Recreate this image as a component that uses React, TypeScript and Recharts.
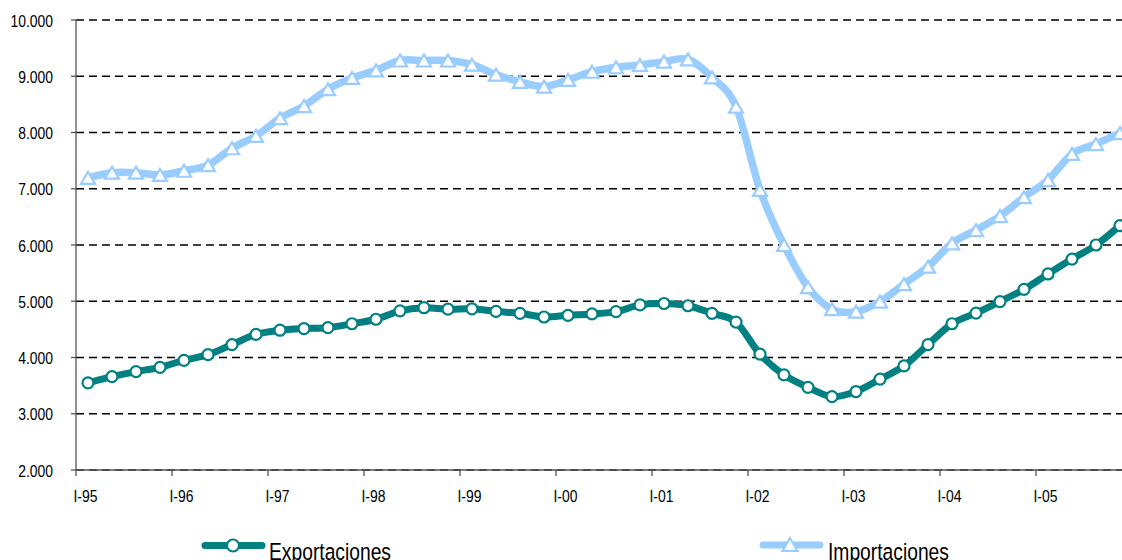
import React from 'react';
import { LineChart, Line, XAxis, YAxis, CartesianGrid } from 'recharts';

const years = ['95', '96', '97', '98', '99', '00', '01', '02', '03', '04', '05'];
const quarterNames = ['I', 'II', 'III', 'IV'];
const categories: string[] = years.flatMap((y) => quarterNames.map((q) => `${q}-${y}`));

const exportaciones = [
  3550, 3660, 3750, 3825, 3950, 4050, 4230, 4410, 4485, 4515, 4530, 4600,
  4680, 4830, 4885, 4860, 4865, 4820, 4785, 4720, 4750, 4775, 4815, 4935,
  4960, 4920, 4785, 4630, 4060, 3690, 3470, 3305, 3395, 3615, 3850, 4230,
  4600, 4790, 4995, 5210, 5485, 5750, 6000, 6345,
];

const importaciones = [
  7195, 7285, 7285, 7245, 7320, 7420, 7720, 7940, 8255, 8470, 8770, 8970,
  9105, 9280, 9280, 9280, 9205, 9030, 8900, 8815, 8935, 9080, 9160, 9200,
  9260, 9300, 8980, 8460, 6980, 6000, 5250, 4860, 4815, 4995, 5305, 5615,
  6030, 6265, 6515, 6850, 7155, 7620, 7795, 7990,
];

const yTicks = [2000, 3000, 4000, 5000, 6000, 7000, 8000, 9000, 10000];
const xTicks = [0, 4, 8, 12, 16, 20, 24, 28, 32, 36, 40];
const seriesNames = ['Exportaciones', 'Importaciones'];

const data = categories.map((c, i) => ({
  x: i + 0.5,
  label: c,
  exportaciones: exportaciones[i],
  importaciones: importaciones[i],
}));

const FONT = "'Liberation Sans', Arial, sans-serif";
const SQUEEZE = 0.82;
const TEAL = '#008080';
const BLUE = '#99CCFF';
const AXIS = '#555555';

// Excel-like smoothed line (Catmull-Rom style Bezier)
const excelCurve: any = (context: any) => {
  let pts: number[][] = [];
  return {
    areaStart() {},
    areaEnd() {},
    lineStart() {
      pts = [];
    },
    point(x: number, y: number) {
      pts.push([+x, +y]);
    },
    lineEnd() {
      if (!pts.length) return;
      context.moveTo(pts[0][0], pts[0][1]);
      for (let i = 0; i < pts.length - 1; i++) {
        const p0 = pts[i - 1] || pts[i];
        const p1 = pts[i];
        const p2 = pts[i + 1];
        const p3 = pts[i + 2] || p2;
        const c1x = p1[0] + (p2[0] - p0[0]) / 6;
        const c1y = p1[1] + (p2[1] - p0[1]) / 6;
        const c2x = p2[0] - (p3[0] - p1[0]) / 6;
        const c2y = p2[1] - (p3[1] - p1[1]) / 6;
        context.bezierCurveTo(c1x, c1y, c2x, c2y, p2[0], p2[1]);
      }
    },
  };
};

const fmt = (v: number) => String(v).replace(/\B(?=(\d{3})+(?!\d))/g, '.');

const NarrowText = ({ x, y, size, anchor = 'start', children }: any) => (
  <g transform={`translate(${x},${y}) scale(${SQUEEZE},1)`}>
    <text x={0} y={0} textAnchor={anchor} fontFamily={FONT} fontSize={size} fill="#000">
      {children}
    </text>
  </g>
);

const YTick = (props: any) => {
  const { x, y, payload } = props;
  return (
    <NarrowText x={x - 16} y={y + 6.5} size={17} anchor="end">
      {fmt(payload.value)}
    </NarrowText>
  );
};

const XTick = (props: any) => {
  const { x, y, payload } = props;
  const idx = Math.round(payload.value);
  return (
    <NarrowText x={x - 2.5} y={y + 24} size={17} anchor="start">
      {categories[idx]}
    </NarrowText>
  );
};

const TriangleDot = (props: any) => {
  const { cx, cy, index } = props;
  if (cx == null || cy == null) return null;
  const h = 6;
  const w = 7;
  return (
    <path
      key={`tri-${index}`}
      d={`M${cx},${cy - h} L${cx + w},${cy + h} L${cx - w},${cy + h} Z`}
      fill="#fff"
      stroke={BLUE}
      strokeWidth={2.2}
      strokeLinejoin="miter"
    />
  );
};

const Legend = () => (
  <svg
    width={1122}
    height={560}
    style={{ position: 'absolute', left: 0, top: 0, pointerEvents: 'none' }}
  >
    <line x1={205} y1={545.5} x2={262} y2={545.5} stroke={TEAL} strokeWidth={7} strokeLinecap="round" />
    <circle cx={233} cy={545.5} r={6} fill="#fff" stroke={TEAL} strokeWidth={2.2} />
    <NarrowText x={269} y={560} size={23.5}>
      {seriesNames[0]}
    </NarrowText>
    <line x1={763} y1={545} x2={820} y2={545} stroke={BLUE} strokeWidth={7} strokeLinecap="round" />
    <path d="M790,538 L797.5,551 L782.5,551 Z" fill="#fff" stroke={BLUE} strokeWidth={2.2} />
    <NarrowText x={828} y={560} size={23.5}>
      {seriesNames[1]}
    </NarrowText>
  </svg>
);

export default function App() {
  return (
    <div
      style={{
        position: 'absolute',
        left: 0,
        top: 0,
        width: 1122,
        height: 560,
        overflow: 'hidden',
        background: '#fff',
      }}
    >
      <LineChart
        width={1140}
        height={560}
        data={data}
        margin={{ top: 20, right: 8, left: 0, bottom: 0 }}
      >
        <CartesianGrid vertical={false} stroke="#000" strokeWidth={1.3} strokeDasharray="8 5" />
        <XAxis
          type="number"
          dataKey="x"
          domain={[0, 44]}
          ticks={xTicks}
          interval={0}
          height={90}
          tick={<XTick />}
          tickSize={6}
          axisLine={{ stroke: AXIS, strokeWidth: 1.3 }}
          tickLine={{ stroke: AXIS, strokeWidth: 1.3 }}
          allowDataOverflow
        />
        <YAxis
          type="number"
          domain={[2000, 10000]}
          ticks={yTicks}
          interval={0}
          width={76}
          tick={<YTick />}
          tickSize={5}
          axisLine={{ stroke: AXIS, strokeWidth: 1.3 }}
          tickLine={{ stroke: AXIS, strokeWidth: 1.3 }}
          allowDataOverflow
        />
        <Line
          dataKey="importaciones"
          name={seriesNames[1]}
          type={excelCurve}
          stroke={BLUE}
          strokeWidth={7.5}
          dot={<TriangleDot />}
          activeDot={false}
          isAnimationActive={false}
        />
        <Line
          dataKey="exportaciones"
          name={seriesNames[0]}
          type={excelCurve}
          stroke={TEAL}
          strokeWidth={7}
          dot={{ r: 5.5, fill: '#fff', stroke: TEAL, strokeWidth: 2.2 }}
          activeDot={false}
          isAnimationActive={false}
        />
      </LineChart>
      <Legend />
    </div>
  );
}
